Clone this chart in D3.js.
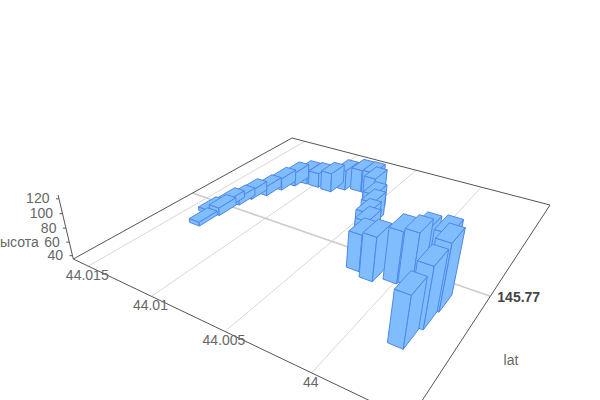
<!DOCTYPE html><html><head><meta charset="utf-8"><script src="https://cdn.jsdelivr.net/npm/d3@7"></script>
<style>html,body{margin:0;background:#fff}svg{display:block}text{font-family:"Liberation Sans",Arial,sans-serif;font-size:14px;fill:#666}</style></head><body><svg id="c" width="600" height="400"></svg>
<script>
const xValues=[44.01326,44.01382,44.01310,44.01333,44.01293,44.01274,44.01222,44.01186,44.01144,44.01091,44.00996,44.00888,44.00819,44.00715,44.00628,44.00565,44.00478,44.00432,44.00400,44.00353,44.00249,44.00143,44.00024,43.99944,43.99930,43.99771,43.99739,43.99749,43.99770];
const latValues=[145.76777,145.76924,145.76949,145.77066,145.77132,145.77242,145.77342,145.77469,145.77573,145.77647,145.77648,145.77639,145.77717,145.77756,145.77755,145.77656,145.77486,145.77379,145.77255,145.77163,145.76898,145.76855,145.76910,145.76931,145.77017,145.76869,145.76812,145.76640,145.76461];
const heights=[41,41,47,46,47,49,50,54,57,56,58,65,67,70,71,74,70,71,70,70,87,97,107,109,105,127,125,117,104];
const xTicks=[44.015,44.01,44.005,44];
const latTicks=[145.77];
const zTicks=[40,60,80,100,120];
const xName="lat",zName="высота";

const corners=[[73.3,259],[409.6,419.7],[550,205],[292,138]];
const [p0,p1,p2,p3]=corners;
const dx1=p1[0]-p2[0],dy1=p1[1]-p2[1],dx2=p3[0]-p2[0],dy2=p3[1]-p2[1];
const qx=p0[0]-p1[0]+p2[0]-p3[0],qy=p0[1]-p1[1]+p2[1]-p3[1],det=dx1*dy2-dx2*dy1;
const g=(qx*dy2-dx2*qy)/det,h=(dx1*qy-qx*dy1)/det;
const a=p1[0]-p0[0]+g*p1[0],b=p3[0]-p0[0]+h*p3[0],c=p0[0];
const d=p1[1]-p0[1]+g*p1[1],e=p3[1]-p0[1]+h*p3[1],f=p0[1];
const Vx=-19.16,Vy=-77.2,Vw=-0.0677;

const sx=d3.scaleLinear().domain([44.0163,43.99526]).range([0,1]);
const sy=d3.scaleLinear().domain([145.7601,145.7821]).range([0,1]);
const sz=d3.scaleLinear().domain([35,125]).range([0,1]);
const project=(s,t,k=0)=>{const w=g*s+h*t+1+Vw*k;return [(a*s+b*t+c+Vx*k)/w,(d*s+e*t+f+Vy*k)/w];};

const svg=d3.select("#c");
const line=d3.line();
const seg=(pts,stroke,width)=>svg.append("path").attr("d",line(pts)).attr("fill","none").attr("stroke",stroke).attr("stroke-width",width);

xTicks.forEach(v=>seg([project(sx(v),0),project(sx(v),1)],"#d8d8d8",1));
latTicks.forEach(v=>seg([project(0,sy(v)),project(1,sy(v))],"#cccccc",1.6));
seg([p0,p1,p2,p3,p0],"#555555",1);
seg([project(0,0),project(0,0,1)],"#555555",1);

zTicks.forEach(v=>{const q=project(0,0,sz(v));
  seg([q,[q[0]-3,q[1]]],"#555555",1);
  svg.append("text").attr("x",q[0]-9.5).attr("y",q[1]+4.5).attr("text-anchor","end").text(v);});
xTicks.forEach(v=>{const q=project(sx(v),0);
  svg.append("text").attr("x",q[0]-1).attr("y",q[1]+14).attr("text-anchor","middle").text(v);});
latTicks.forEach(v=>{const q=project(1,sy(v));
  svg.append("text").attr("x",q[0]+7).attr("y",q[1]+5.5).attr("font-weight","bold").style("fill","#444").text(v);});
svg.append("text").attr("x",511).attr("y",365).attr("text-anchor","middle").text(xName);
svg.append("text").attr("x",38.7).attr("y",247).attr("text-anchor","end").text(zName);

const halfX=0.0195,halfLat=0.039;
const bars=d3.range(xValues.length).map(i=>({s:sx(xValues[i]),t:sy(latValues[i]),k:sz(heights[i])}));
bars.sort((m,n)=>d3.descending(g*m.s+h*m.t,g*n.s+h*n.t));
const G=svg.append("g").attr("fill","#7fbdff").attr("stroke","#4f88e6").attr("stroke-width",1).attr("stroke-linejoin","round");
bars.forEach(o=>{
  const s0=o.s-halfX,s1=o.s+halfX,t0=o.t-halfLat,t1=o.t+halfLat;
  const faces=[
    [project(s0,t0),project(s1,t0),project(s1,t0,o.k),project(s0,t0,o.k)],
    [project(s1,t0),project(s1,t1),project(s1,t1,o.k),project(s1,t0,o.k)],
    [project(s0,t0,o.k),project(s1,t0,o.k),project(s1,t1,o.k),project(s0,t1,o.k)]
  ];
  faces.forEach(pts=>G.append("path").attr("d",line(pts)+"Z"));
});
</script></body></html>
